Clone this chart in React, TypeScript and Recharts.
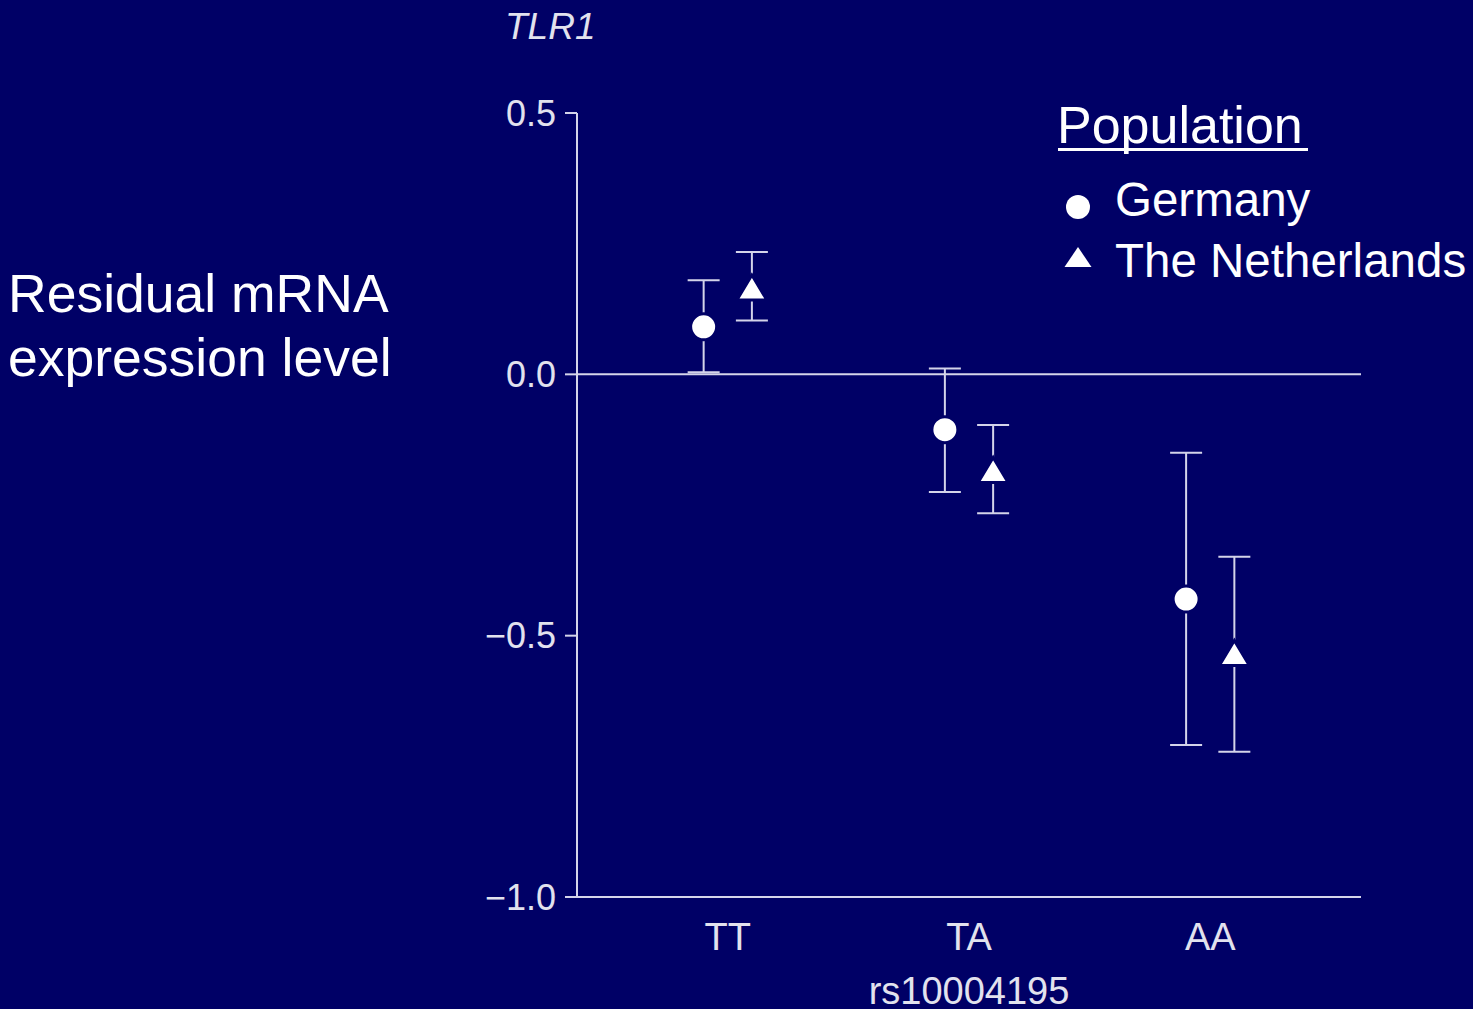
import React from 'react'
import { ScatterChart, Scatter, XAxis, YAxis, ErrorBar, ReferenceLine, Legend } from 'recharts'

// genotypes of rs10004195
const genotypes = ['TT', 'TA', 'AA']

// Germany: mean residual expression with lower / upper error limits
const germanyMean = [0.091, -0.106, -0.43]
const germanyLow = [0.004, -0.225, -0.709]
const germanyHigh = [0.18, 0.011, -0.15]

// The Netherlands
const dutchMean = [0.165, -0.184, -0.534]
const dutchLow = [0.103, -0.266, -0.722]
const dutchHigh = [0.234, -0.097, -0.349]

const yTicks = [-1, -0.5, 0, 0.5]

const BG = '#000066'
const LINE = '#d4d4ea'
const TICK_TEXT = '#e2e2ee'
const FONT = '"Liberation Sans", Arial, Helvetica, sans-serif'

// points of each population sit a little left / right of the genotype position
const makeRows = (mean: number[], low: number[], high: number[], shift: number) =>
  mean.map((m, i) => ({
    x: i + 1 + shift,
    y: m,
    err: [m - low[i], high[i] - m],
  }))

const germanyRows = makeRows(germanyMean, germanyLow, germanyHigh, -0.1)
const dutchRows = makeRows(dutchMean, dutchLow, dutchHigh, 0.1)

const fmtY = (v: number) => (v < 0 ? '\u2212' + Math.abs(v).toFixed(1) : v.toFixed(1))

const Dot = (props: any) => {
  const { cx, cy } = props
  return <circle cx={cx} cy={cy} r={13} fill="#fff" stroke={BG} strokeWidth={3} />
}

const Tri = (props: any) => {
  const { cx, cy } = props
  const pts = `${cx},${cy - 13} ${cx - 15},${cy + 12} ${cx + 15},${cy + 12}`
  return <polygon points={pts} fill="#fff" stroke={BG} strokeWidth={3} />
}

const PopulationLegend = () => (
  <svg width={430} height={200} style={{ display: 'block' }}>
    <text x={17} y={53} fill="#fff" fontSize={52} fontFamily={FONT}>Population</text>
    <rect x={18} y={58} width={250} height={3} fill="#fff" />
    <circle cx={38} cy={117} r={12} fill="#fff" />
    <text x={75} y={126} fill="#fff" fontSize={47.5} fontFamily={FONT}>Germany</text>
    <polygon points="38,157 24.5,177 51.5,177" fill="#fff" />
    <text x={75} y={187} fill="#fff" fontSize={47.5} fontFamily={FONT}>The Netherlands</text>
  </svg>
)

const App = () => {
  return (
    <div style={{ position: 'absolute', left: 0, top: 0, width: 1473, height: 1009, background: BG, fontFamily: FONT }}>
      <div style={{ position: 'absolute', left: 505, top: 6, fontSize: 37, fontStyle: 'italic', color: TICK_TEXT }}>TLR1</div>
      <div style={{ position: 'absolute', left: 8, top: 262, fontSize: 53.5, lineHeight: '64px', color: '#fff' }}>
        Residual mRNA<br />expression level
      </div>
      <ScatterChart width={1473} height={1009} margin={{ top: 113, right: 112, bottom: 52, left: 497 }}>
        <XAxis
          type="number"
          dataKey="x"
          domain={[0.375, 3.625]}
          ticks={[1, 2, 3]}
          tickFormatter={(v: number) => genotypes[v - 1]}
          height={60}
          axisLine={{ stroke: LINE, strokeWidth: 2 }}
          tickLine={false}
          tickSize={0}
          tickMargin={26}
          tick={{ fill: TICK_TEXT, fontSize: 38, fontFamily: FONT }}
          label={{ value: 'rs10004195', position: 'bottom', offset: 20, fill: TICK_TEXT, fontSize: 38, fontFamily: FONT }}
        />
        <YAxis
          type="number"
          dataKey="y"
          domain={[-1, 0.5]}
          ticks={yTicks}
          tickFormatter={fmtY}
          width={80}
          axisLine={{ stroke: LINE, strokeWidth: 2 }}
          tickLine={{ stroke: LINE, strokeWidth: 2 }}
          tickSize={12}
          tickMargin={9}
          tick={{ fill: TICK_TEXT, fontSize: 36, fontFamily: FONT }}
        />
        <ReferenceLine y={0} stroke={LINE} strokeWidth={2} />
        <Legend
          layout="vertical"
          align="center"
          verticalAlign="middle"
          wrapperStyle={{ left: 1040, top: 90, width: 430, height: 200 }}
          content={() => <PopulationLegend />}
        />
        <Scatter name="Germany" data={germanyRows} shape={Dot} isAnimationActive={false}>
          <ErrorBar dataKey="err" direction="y" width={16} stroke={LINE} strokeWidth={2} />
        </Scatter>
        <Scatter name="The Netherlands" data={dutchRows} shape={Tri} isAnimationActive={false}>
          <ErrorBar dataKey="err" direction="y" width={16} stroke={LINE} strokeWidth={2} />
        </Scatter>
      </ScatterChart>
    </div>
  )
}

export default App
